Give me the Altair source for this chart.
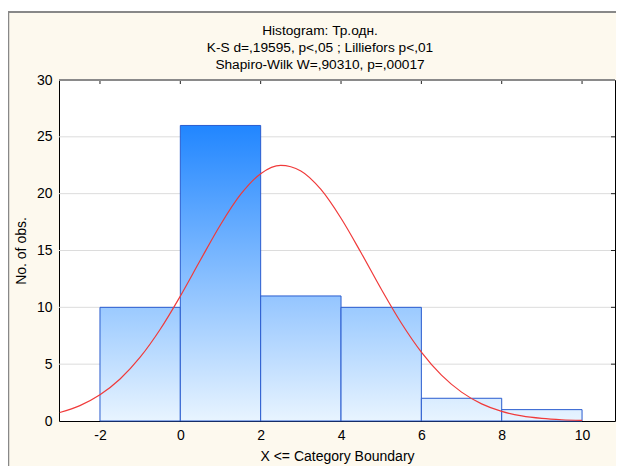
import altair as alt
import pandas as pd

# ---- data ----
bin_start = [-2, 0, 2, 4, 6, 8]
bin_end = [0, 2, 4, 6, 8, 10]
counts = [10, 26, 11, 10, 2, 1]

curve_x = [-3, -2.5, -2, -1.5, -1, -0.5, 0, 0.5, 1, 1.5, 2, 2.5, 3, 3.5, 4,
           4.5, 5, 5.5, 6, 6.5, 7, 7.5, 8, 8.5, 9, 9.5, 10]
curve_y = [0.75, 1.35, 2.30, 3.69, 5.61, 8.07, 10.99, 14.16, 17.27, 19.93,
           21.76, 22.49, 22.00, 20.37, 17.84, 14.80, 11.61, 8.62, 6.06, 4.03,
           2.54, 1.51, 0.85, 0.45, 0.23, 0.11, 0.05]

x_ticks = [-2, 0, 2, 4, 6, 8, 10]
y_ticks = [0, 5, 10, 15, 20, 25, 30]
y_grid = [5, 10, 15, 20, 25]

title_lines = ["Histogram: Тр.одн.",
               "K-S d=,19595, p<,05 ; Lilliefors p<,01",
               "Shapiro-Wilk W=,90310, p=,00017"]

FONT = "Liberation Sans"
CREAM = "#FDF9EE"
W, H = 556, 341

bars = pd.DataFrame({"i": list(range(len(counts))), "start": bin_start,
                     "end": bin_end, "count": counts})
curve = pd.DataFrame({"x": curve_x, "y": curve_y})
xt = pd.DataFrame({"t": x_ticks})
yt = pd.DataFrame({"t": y_grid})
one = pd.DataFrame({"a": [0]})

xscale = alt.Scale(domain=[-3.02, 10.82], nice=False, zero=False)
yscale = alt.Scale(domain=[0, 30], nice=False)

BOTTOM = (232, 244, 255)
TOP = (33, 134, 255)
vmax = max(counts)


def mix(t):
    r = [round(b + (a - b) * t) for a, b in zip(TOP, BOTTOM)]
    return "#%02x%02x%02x" % tuple(r)


xaxis = alt.Axis(values=x_ticks, grid=False, ticks=False, domain=False,
                 labelFontSize=14, labelFont=FONT, labelColor="black",
                 labelPadding=7, labelExpr="'' + datum.value",
                 title="X <= Category Boundary", titleFont=FONT, titleFontSize=14,
                 titleFontWeight="normal", titleColor="black", titlePadding=7)
yaxis = alt.Axis(values=y_ticks, grid=False, ticks=False, domain=False,
                 labelFontSize=14, labelFont=FONT, labelColor="black",
                 labelPadding=7, title="No. of obs.", titleFont=FONT,
                 titleFontSize=14, titleFontWeight="normal", titleColor="black",
                 titlePadding=8)

layers = []
# horizontal gridlines
layers.append(alt.Chart(yt).mark_rule(color="#DCDCDC", strokeWidth=1).encode(
    y=alt.Y("t:Q", scale=yscale, axis=yaxis), x=alt.value(0), x2=alt.value(W)))

for k, v in enumerate(counts):
    grad = alt.LinearGradient(
        gradient="linear",
        stops=[alt.GradientStop(color=mix(v / vmax), offset=0),
               alt.GradientStop(color=mix(0), offset=1)],
        x1=0, x2=0, y1=0, y2=1)
    xenc = (alt.X("start:Q", scale=xscale, axis=xaxis) if k == 0
            else alt.X("start:Q", scale=xscale))
    layers.append(
        alt.Chart(bars).transform_filter(alt.datum.i == k)
        .mark_rect(fill=grad, stroke="#2A5CCF", strokeWidth=1)
        .encode(x=xenc, x2="end:Q",
                y=alt.Y("count:Q", scale=yscale),
                y2=alt.datum(0))
    )

line = alt.Chart(curve).mark_line(color="#F03A3A", strokeWidth=1.2,
                                  interpolate="monotone", clip=True).encode(
    x=alt.X("x:Q", scale=xscale), y=alt.Y("y:Q", scale=yscale))
layers.append(line)

# gray top border of plot frame and small inner ticks
layers.append(alt.Chart(one).mark_rule(color="#8A8A8A", strokeWidth=2).encode(
    x=alt.value(0), x2=alt.value(W), y=alt.value(0)))
layers.append(alt.Chart(xt).mark_rule(color="#222222", strokeWidth=1).encode(
    x=alt.X("t:Q", scale=xscale), y=alt.value(1), y2=alt.value(4)))
layers.append(alt.Chart(yt).mark_rule(color="#222222", strokeWidth=1).encode(
    y=alt.Y("t:Q", scale=yscale), x=alt.value(W - 4), x2=alt.value(W)))

# title (three lines) as text
layers.append(alt.Chart(one).mark_text(
    text=title_lines, font=FONT, fontSize=13.7, color="black", lineHeight=17,
    align="center", baseline="middle").encode(
    x=alt.value(261), y=alt.value(-49.5)))

# window frame decoration
layers.append(alt.Chart(one).mark_rule(color="white", strokeWidth=3).encode(
    x=alt.value(-51), x2=alt.value(W + 1), y=alt.value(-70.5)))
layers.append(alt.Chart(one).mark_rule(color="#888888", strokeWidth=2).encode(
    x=alt.value(-51), x2=alt.value(W + 1), y=alt.value(-68)))
layers.append(alt.Chart(one).mark_rule(color="#888888", strokeWidth=1.5).encode(
    x=alt.value(-50.5), y=alt.value(-68), y2=alt.value(386)))

chart = alt.layer(*layers).properties(
    width=W, height=H,
    autosize=alt.AutoSizeParams(type="none"),
    padding={"left": 51, "top": 72, "right": 1, "bottom": 45},
    background=CREAM,
).configure_view(stroke="black", strokeWidth=1, fill="white")

chart.save("out.html", embed_options={"renderer": "svg", "actions": False})
